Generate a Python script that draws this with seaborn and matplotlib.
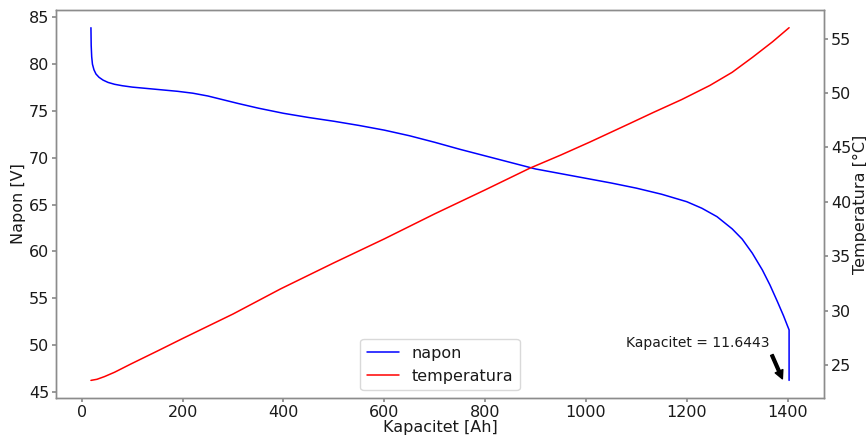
import matplotlib
matplotlib.use("Agg")
import matplotlib.pyplot as plt
import numpy as np
import pandas as pd
import seaborn as sns

# Discharge curve: battery voltage vs. delivered capacity
kap_napon = [18, 18.5, 19.5, 21, 24, 28, 34, 42, 52, 65, 80, 100, 130, 160,
             190, 220, 250, 280, 310, 350, 400, 450, 500, 550, 600, 650, 700,
             750, 800, 850, 900, 950, 1000, 1050, 1100, 1150, 1200, 1230,
             1260, 1290, 1310, 1330, 1350, 1365, 1380, 1392, 1400, 1403, 1403]
napon = [83.9, 82.0, 80.8, 80.0, 79.4, 78.95, 78.6, 78.3, 78.05, 77.85, 77.7,
         77.55, 77.4, 77.25, 77.1, 76.9, 76.6, 76.2, 75.8, 75.3, 74.75, 74.3,
         73.9, 73.45, 72.95, 72.35, 71.65, 70.9, 70.2, 69.5, 68.8, 68.3, 67.8,
         67.3, 66.75, 66.1, 65.3, 64.6, 63.7, 62.4, 61.3, 59.8, 58.0, 56.4,
         54.6, 53.1, 52.0, 51.6, 46.2]

# Pack temperature over the same discharge
kap_temp = [18, 30, 45, 65, 97, 150, 200, 300, 394, 500, 600, 700, 800, 889,
            950, 1008, 1087, 1133, 1190, 1246, 1290, 1331, 1370, 1403]
temperatura = [23.6, 23.7, 23.95, 24.35, 25.1, 26.3, 27.45, 29.7, 32.0, 34.4,
               36.6, 38.9, 41.1, 43.1, 44.3, 45.5, 47.2, 48.2, 49.4, 50.7,
               51.9, 53.3, 54.7, 56.0]

kapacitet_tekst = "Kapacitet = 11.6443"

sns.set_theme(style="ticks", rc={
    "axes.edgecolor": "0.55",
    "xtick.color": "0.55",
    "ytick.color": "0.55",
    "xtick.labelcolor": "0.1",
    "ytick.labelcolor": "0.1",
    "axes.labelcolor": "0.1",
    "text.color": "0.1",
    "axes.linewidth": 1.0,
})
plt.rcParams["font.family"] = ["DejaVu Sans"]

df_napon = pd.DataFrame({"kap": kap_napon, "val": napon})
df_temp = pd.DataFrame({"kap": kap_temp, "val": temperatura})

fig = plt.figure(figsize=(8.66, 4.38), dpi=100)
ax = fig.add_subplot(111)
fig.subplots_adjust(left=0.0647, right=0.9515, bottom=0.0913, top=0.977)

sns.lineplot(data=df_napon, x="kap", y="val", ax=ax, color="blue",
             linewidth=1.1, estimator=None, sort=False, label="napon")
ax2 = ax.twinx()
sns.lineplot(data=df_temp, x="kap", y="val", ax=ax2, color="red",
             linewidth=1.1, estimator=None, sort=False, label="temperatura")

fs = 11.5
ax.set_xlabel("Kapacitet [Ah]", fontsize=fs, labelpad=0)
ax.set_ylabel("Napon [V]", fontsize=fs, labelpad=2)
ax2.set_ylabel("Temperatura [°C]", fontsize=fs, labelpad=1)
ax.tick_params(labelsize=fs, length=3, pad=2)
ax2.tick_params(labelsize=fs, length=3, pad=2)
ax.set_yticks(np.arange(45, 86, 5))
ax2.set_yticks(np.arange(25, 56, 5))
for s in ax2.spines.values():
    s.set_color("0.55")

# combined legend from both axes
h1, l1 = ax.get_legend_handles_labels()
h2, l2 = ax2.get_legend_handles_labels()
if ax2.get_legend() is not None:
    ax2.get_legend().remove()
ax.legend(h1 + h2, l1 + l2, loc="lower center", fontsize=fs, frameon=True,
          fancybox=True, edgecolor="0.85", framealpha=1.0)

ax.annotate(kapacitet_tekst, xy=(kap_napon[-1] - 12, napon[-1]),
            xytext=(1080, 49.75), fontsize=10,
            arrowprops=dict(facecolor="black", edgecolor="black",
                            width=2, headwidth=6, headlength=6, shrink=0.05))

fig.savefig("out.png", dpi=100)
